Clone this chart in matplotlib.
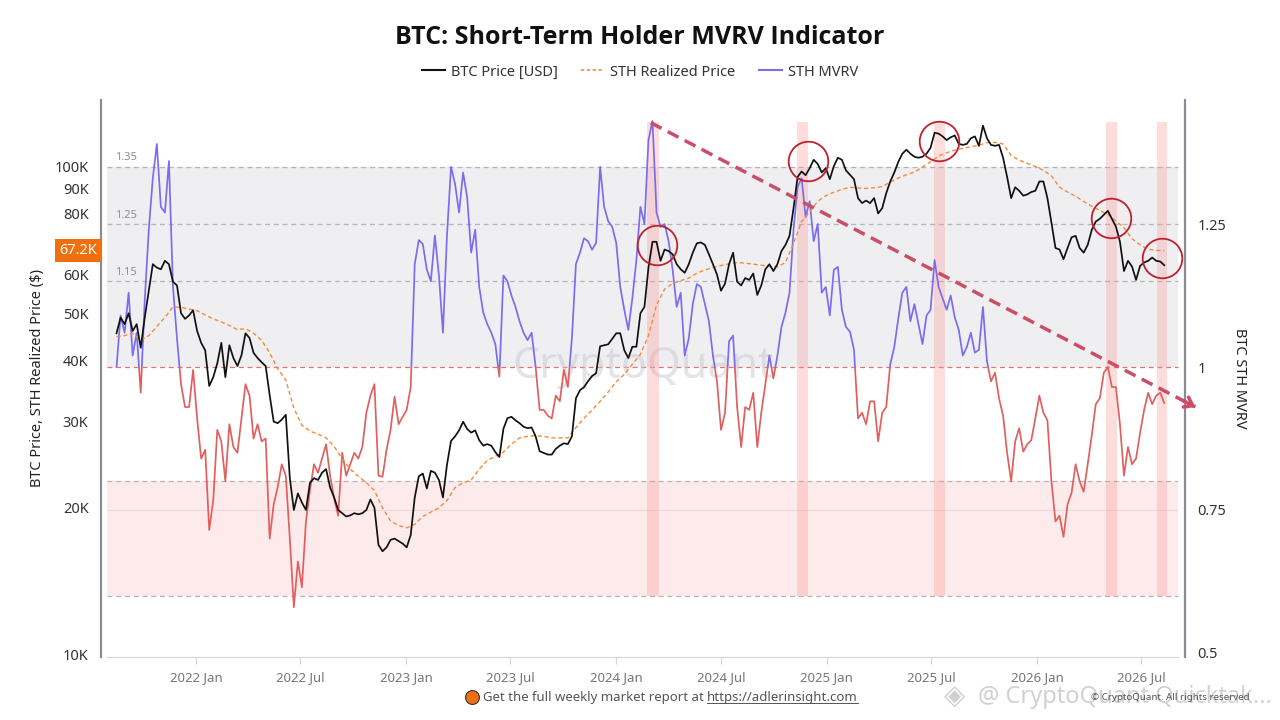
import pandas as pd
import matplotlib
matplotlib.use('Agg')
import matplotlib.pyplot as plt
import matplotlib.dates as mdates
import matplotlib.transforms as mtransforms
from matplotlib.patches import Rectangle
from matplotlib.lines import Line2D
from matplotlib.ticker import FixedLocator, FixedFormatter, NullLocator
import numpy as np

plt.rcParams['font.family'] = ['Noto Sans', 'DejaVu Sans']

# ---- data ----
# BTC price, thousands of USD, weekly
price_dates = pd.date_range('2021-08-16', periods=261, freq='7D')
btc_price_k = [
    45.5, 49, 47.5, 50, 46, 47.5, 42.5, 49, 55.6, 63,
    62, 61.5, 64, 63, 58, 57, 50, 48.7, 49.5, 50.7,
    46, 43.5, 42, 35.5, 37, 39.5, 43.5, 37, 43, 40.5,
    39, 41, 45.5, 44.5, 41.5, 40.5, 39.7, 39, 34, 30,
    29.8, 30.3, 31, 23, 19.8, 21.4, 20.5, 19.8, 22.5, 23,
    22.8, 23.6, 24, 22, 21, 19.8, 19.5, 19.2, 19.3, 19.5,
    19.4, 19.5, 19.8, 20.8, 20, 16.8, 16.3, 16.6, 17.2, 17.3,
    17.1, 16.9, 16.6, 17.6, 21, 23.2, 23.5, 21.9, 23.8, 23.6,
    22.8, 21.0, 24.5, 27.4, 28, 28.8, 30, 29, 28.5, 28.8,
    27.5, 26.8, 27, 26.8, 26, 25.4, 29, 30.5, 30.7, 30.2,
    29.8, 29.3, 29.1, 29.2, 28, 26.1, 25.9, 25.7, 25.7, 26.4,
    26.8, 27.1, 27, 28, 33.5, 34.8, 35.3, 36.3, 37.2, 37.7,
    42.8, 43, 43.2, 44.3, 45.5, 45.5, 42, 40.5, 42.7, 42.7,
    50, 51.5, 62, 70, 70, 64, 67.5, 67, 66, 63,
    61.5, 60.5, 63, 66.5, 69.5, 69.8, 69, 66, 63, 60,
    55.6, 57.5, 63, 66.5, 58, 57, 59, 58.5, 60.3, 54.5,
    57, 61.5, 63, 61, 63, 67, 69, 72, 82, 95,
    97.5, 95.8, 99, 103, 101, 97, 99, 94, 100, 104,
    103, 98, 96, 94, 86, 84, 85, 84, 86, 80,
    82, 88, 93, 97, 102, 106, 108, 106, 104.5, 104,
    104.5, 106, 109, 117, 116.5, 115, 113, 114.5, 115.5, 111,
    110.5, 111, 114, 115, 110, 121, 114, 110.5, 110, 110.5,
    104, 95, 86, 90.5, 89, 87, 87.5, 88.5, 89, 93,
    93, 86, 76.6, 68, 67.5, 64.5, 68, 71.5, 72, 68,
    66.5, 69, 74, 77, 78, 79.5, 81, 78, 75.2, 70,
    61, 64, 62.3, 58.5, 62.5, 63.5, 64, 65, 64, 63.8,
    62.7,
]

# STH realized price, thousands of USD, every 2 weeks
realized_dates = pd.date_range('2021-08-16', periods=131, freq='14D')
sth_realized_k = [
    44.8, 45, 45.5, 44, 45, 47, 49, 51.5, 51.4, 51,
    50.6, 49.6, 48.7, 48, 47.2, 46.3, 46.5, 45.5, 44, 41.5,
    38.5, 36.5, 32, 29.5, 28.7, 28.3, 27.8, 26.7, 25.2, 24,
    23.2, 22.5, 21.7, 20, 18.8, 18.4, 18.2, 18.5, 19.2, 19.6,
    20, 20.7, 22, 22.5, 22.8, 24, 25, 25.5, 26, 27,
    27.8, 28, 28.1, 28, 27.8, 27.8, 27.8, 29.2, 30.5, 31.7,
    33, 34.5, 36.2, 37.5, 39.3, 41.2, 45, 52, 56, 57.5,
    58.3, 59, 60.4, 61.3, 62, 62.6, 63.1, 63.5, 63.3, 63,
    62.7, 62.3, 62.2, 63.5, 69.5, 77, 80.6, 84.7, 87, 88.4,
    89.6, 90.5, 90.2, 90, 90.3, 90.8, 92.7, 94.5, 96, 97.2,
    99.5, 102, 104.8, 106.5, 107.8, 108.7, 109.5, 110.3, 111.7, 111.8,
    111, 105, 102.8, 101.3, 99.8, 98, 95.5, 90.5, 88.5, 86.8,
    84.6, 82.8, 81.2, 79.6, 77.2, 74.8, 71, 69, 67.6, 67.2,
    67.2,
]

# STH MVRV, weekly
mvrv_dates = pd.date_range('2021-08-16', periods=261, freq='7D')
sth_mvrv = [
    1.0, 1.09, 1.06, 1.13, 1.02, 1.06, 0.955, 1.117, 1.24, 1.33,
    1.39, 1.28, 1.27, 1.36, 1.14, 1.05, 0.97, 0.93, 0.93, 0.995,
    0.91, 0.84, 0.855, 0.715, 0.767, 0.89, 0.87, 0.80, 0.90, 0.86,
    0.85, 0.91, 0.97, 0.95, 0.875, 0.90, 0.87, 0.875, 0.70, 0.76,
    0.79, 0.83, 0.81, 0.70, 0.58, 0.66, 0.615, 0.73, 0.785, 0.83,
    0.815, 0.84, 0.865, 0.81, 0.77, 0.74, 0.85, 0.81, 0.83, 0.85,
    0.84, 0.86, 0.92, 0.95, 0.97, 0.81, 0.808, 0.855, 0.89, 0.948,
    0.90, 0.913, 0.925, 0.965, 1.18, 1.222, 1.215, 1.17, 1.15, 1.23,
    1.16, 1.06, 1.23, 1.35, 1.32, 1.27, 1.34, 1.297, 1.20, 1.24,
    1.14, 1.095, 1.075, 1.06, 1.04, 0.983, 1.16, 1.15, 1.125, 1.105,
    1.08, 1.06, 1.047, 1.06, 1.0, 0.925, 0.925, 0.915, 0.91, 0.95,
    0.94, 0.995, 0.965, 1.05, 1.18, 1.20, 1.225, 1.22, 1.205, 1.217,
    1.35, 1.28, 1.255, 1.245, 1.217, 1.14, 1.10, 1.065, 1.12, 1.187,
    1.28, 1.25, 1.397, 1.43, 1.27, 1.245, 1.25, 1.22, 1.17, 1.105,
    1.13, 1.02, 1.05, 1.11, 1.145, 1.14, 1.11, 1.08, 1.02, 0.975,
    0.89, 0.92, 1.045, 1.055, 0.93, 0.86, 0.93, 0.925, 0.955, 0.86,
    0.92, 0.97, 1.02, 0.98, 1.02, 1.07, 1.095, 1.13, 1.24, 1.315,
    1.33, 1.262, 1.29, 1.22, 1.25, 1.13, 1.14, 1.09, 1.17, 1.175,
    1.10, 1.07, 1.062, 1.03, 0.91, 0.92, 0.90, 0.94, 0.94, 0.87,
    0.92, 0.93, 1.005, 1.035, 1.085, 1.13, 1.14, 1.08, 1.11, 1.075,
    1.04, 1.09, 1.10, 1.187, 1.14, 1.12, 1.10, 1.125, 1.087, 1.065,
    1.02, 1.035, 1.06, 1.025, 1.03, 1.105, 1.01, 0.975, 0.99, 0.945,
    0.915, 0.85, 0.80, 0.87, 0.893, 0.852, 0.865, 0.872, 0.91, 0.95,
    0.92, 0.907, 0.80, 0.73, 0.74, 0.703, 0.76, 0.78, 0.83, 0.80,
    0.782, 0.83, 0.88, 0.935, 0.945, 0.99, 1.0, 0.965, 0.965, 0.90,
    0.81, 0.86, 0.83, 0.84, 0.885, 0.925, 0.955, 0.935, 0.95, 0.955,
    0.937,
]

# highlighted periods and circled price tops
zone_starts = ['2024-02-24', '2024-11-10', '2025-07-06', '2026-05-01', '2026-07-29']
zone_ends = ['2024-03-16', '2024-11-29', '2025-07-25', '2026-05-20', '2026-08-15']
circle_dates = ['2024-03-12', '2024-11-29', '2025-07-15', '2026-05-10', '2026-08-06']
circle_prices_k = [68.9, 102.4, 112.5, 78.3, 64.8]

# descending trend line on the MVRV scale
trend_dates = ['2024-03-01', '2026-10-03']
trend_mvrv = [1.427, 0.93]

last_realized_label = '67.2K'

x_tick_dates = ['2022-01-01', '2022-07-01', '2023-01-01', '2023-07-01', '2024-01-01',
                '2024-07-01', '2025-01-01', '2025-07-01', '2026-01-01', '2026-07-01']
x_tick_labels = ['2022 Jan', '2022 Jul', '2023 Jan', '2023 Jul', '2024 Jan',
                 '2024 Jul', '2025 Jan', '2025 Jul', '2026 Jan', '2026 Jul']
price_ticks = [10, 20, 30, 40, 50, 60, 80, 90, 100]
mvrv_ticks = [0.5, 0.75, 1, 1.25]
mvrv_tick_labels = ['0.5', '0.75', '1', '1.25']
grey_levels = [1.35, 1.25, 1.15]

# ---- figure ----
fig = plt.figure(figsize=(12.8, 7.2), dpi=100)
fig.patch.set_facecolor('white')
ax1 = fig.add_axes([101 / 1280, 1 - 657 / 720, 1084 / 1280, 557 / 720])
ax2 = ax1.twinx()
ax1.set_zorder(ax2.get_zorder() + 1)
ax1.patch.set_visible(False)

x_left, x_right = pd.Timestamp('2021-07-20'), pd.Timestamp('2026-09-15')
band_x0, band_x1 = pd.Timestamp('2021-07-30'), pd.Timestamp('2026-09-03')

# background zones on the MVRV axis
ax2.fill_between([band_x0, band_x1], 1.0, 1.35, color='#efeff2', lw=0, zorder=0)
ax2.fill_between([band_x0, band_x1], 0.6, 0.8, color='#fcebea', lw=0, zorder=0)
ax2.hlines(0.75, band_x0, band_x1, colors='#f3d8d8', lw=0.8, zorder=0.2)
ax2.hlines(grey_levels + [0.8, 0.6], band_x0, band_x1, colors='#b4b4be',
           linestyles=(0, (4, 3)), lw=0.9, zorder=0.5)
ax2.hlines(1.0, band_x0, band_x1, colors='#e57373', linestyles=(0, (4, 3)), lw=0.9, zorder=0.5)
for lv in grey_levels:
    ax2.text(pd.Timestamp('2021-08-13'), lv + 0.006, f'{lv:.2f}', fontsize=8,
             color='#8c8c8c', va='bottom', ha='left', zorder=0.6)

ax2.text(0.5, 0.52, 'CryptoQuant', transform=ax2.transAxes, fontsize=31,
         color='#c8c8d2', alpha=0.5, ha='center', va='center', zorder=0.7)

for s, e in zip(zone_starts, zone_ends):
    ax2.fill_between([pd.Timestamp(s), pd.Timestamp(e)], 0.6, 1.428,
                     color='#ff8f8f', alpha=0.3, lw=0, zorder=1)

# MVRV line: purple above 1, red below 1
xa = mdates.date2num(pd.Timestamp('2020-01-01'))
clip_up = Rectangle((xa, 1.0), 4000, 5, transform=ax2.transData)
clip_dn = Rectangle((xa, -5), 4000, 6.0, transform=ax2.transData)
l_up, = ax2.plot(mvrv_dates, sth_mvrv, color='#7b6cf0', lw=1.25, zorder=2)
l_up.set_clip_path(clip_up)
l_dn, = ax2.plot(mvrv_dates, sth_mvrv, color='#e0605f', lw=1.25, zorder=2)
l_dn.set_clip_path(clip_dn)

# price lines
ax1.plot(realized_dates, sth_realized_k, color='#f28c3c', lw=1.0, ls=(0, (3, 2)), zorder=3)
ax1.plot(price_dates, btc_price_k, color='#111111', lw=1.25, zorder=4)
ax1.plot(pd.to_datetime(circle_dates), circle_prices_k, ls='none', marker='o', ms=28.5,
         mfc='none', mec='#c0202e', mew=1.3, zorder=5)

# axes limits & ticks
ax1.set_xlim(x_left, x_right)
ax1.set_yscale('log')
ax1.set_ylim(9.906, 136.5)
ax2.set_ylim(0.493, 1.4668)

ax1.yaxis.set_major_locator(FixedLocator(price_ticks))
ax1.yaxis.set_major_formatter(FixedFormatter([f'{v}K' for v in price_ticks]))
ax1.yaxis.set_minor_locator(NullLocator())
ax1.tick_params(axis='y', length=0, labelsize=10.5, labelcolor='#333333', pad=9)
ax2.yaxis.set_major_locator(FixedLocator(mvrv_ticks))
ax2.yaxis.set_major_formatter(FixedFormatter(mvrv_tick_labels))
ax2.tick_params(axis='y', length=0, labelsize=10.5, labelcolor='#333333', pad=9)

ax1.set_xticks(pd.to_datetime(x_tick_dates))
ax1.set_xticklabels(x_tick_labels)
ax1.tick_params(axis='x', length=5, color='#d5d5dc', labelsize=9.5, labelcolor='#777777', pad=5)

for sp in ['top', 'right']:
    ax1.spines[sp].set_visible(False)
ax1.spines['left'].set_color('#8c8c99')
ax1.spines['left'].set_linewidth(1.6)
ax1.spines['bottom'].set_color('#d5d5dc')
ax1.spines['bottom'].set_bounds(mdates.date2num(band_x0), mdates.date2num(band_x1))
for sp in ['top', 'left', 'bottom']:
    ax2.spines[sp].set_visible(False)
ax2.spines['right'].set_color('#8c8c99')
ax2.spines['right'].set_linewidth(1.6)

# trend arrow (dashed) over everything
trend_c = '#cc4e66'
ax1.plot(pd.to_datetime(trend_dates), trend_mvrv, transform=ax2.transData, color=trend_c,
         lw=2.5, ls=(0, (3.5, 2)), clip_on=False, zorder=6)
p0 = ax2.transData.transform((mdates.date2num(pd.Timestamp(trend_dates[0])), trend_mvrv[0]))
p1 = ax2.transData.transform((mdates.date2num(pd.Timestamp(trend_dates[1])), trend_mvrv[1]))
u = (p1 - p0) / np.hypot(*(p1 - p0))
ax1.annotate('', xy=tuple(p1), xytext=tuple(p1 - 14 * u), xycoords='figure pixels',
             textcoords='figure pixels', annotation_clip=False,
             arrowprops=dict(arrowstyle='->,head_length=0.55,head_width=0.4', lw=2.5,
                             color=trend_c, shrinkA=0, shrinkB=0))

# last realized price tag
blend = mtransforms.blended_transform_factory(ax1.transAxes, ax1.transData)
ax1.text(-0.004, 67.2, last_realized_label, transform=blend, ha='right', va='center',
         color='white', fontsize=10.5, zorder=7, clip_on=False,
         bbox=dict(boxstyle='square,pad=0.3', fc='#f07010', ec='none'))

# titles, labels, legend
fig.text(0.5, 1 - 37 / 720, 'BTC: Short-Term Holder MVRV Indicator', ha='center', va='center',
         fontsize=18, fontweight='bold', color='#111111',
         family=['Open Sans', 'Lato', 'DejaVu Sans'])
handles = [Line2D([], [], color='#111111', lw=1.5),
           Line2D([], [], color='#f28c3c', lw=1.2, ls=(0, (2, 1.5))),
           Line2D([], [], color='#7b6cf0', lw=1.5)]
fig.legend(handles, ['BTC Price [USD]', 'STH Realized Price', 'STH MVRV'], loc='center',
           bbox_to_anchor=(0.5, 1 - 72 / 720), ncol=3, frameon=False, fontsize=10.5,
           handlelength=1.6, handletextpad=0.4, columnspacing=1.6, labelcolor='#333333')
fig.text(38 / 1280, 1 - 378 / 720, 'BTC Price, STH Realized Price ($)', rotation=90,
         ha='center', va='center', fontsize=10.5, color='#222222')
fig.text(1240 / 1280, 1 - 378 / 720, 'BTC STH MVRV', rotation=270,
         ha='center', va='center', fontsize=10.5, color='#222222')

# footer
fy = 1 - 697 / 720
fig.add_artist(Line2D([472 / 1280], [fy], marker='o', ms=10, mfc='#f07010', mec='#333333',
                      mew=0.8, transform=fig.transFigure))
t1 = fig.text(483 / 1280, fy, 'Get the full weekly market report at ', ha='left', va='center',
              fontsize=9.5, color='#555555')
fig.canvas.draw()
r = fig.canvas.get_renderer()
bb1 = t1.get_window_extent(r)
t2 = fig.text(bb1.x1 / 1280, fy, 'https://adlerinsight.com', ha='left', va='center',
              fontsize=9.5, color='#555555')
bb2 = t2.get_window_extent(r)
fig.add_artist(Line2D([bb2.x0 / 1280, bb2.x1 / 1280], [(bb2.y0 + 1) / 720] * 2,
                      color='#555555', lw=0.7, transform=fig.transFigure))

fig.text(955 / 1280, fy, '\u25c8', ha='center', va='center', fontsize=20, color='#d0d0d0')
fig.text(1272 / 1280, fy, '@ CryptoQuant Quicktak...', ha='right', va='center',
         fontsize=17, color='#c9c9c9', alpha=0.85)
fig.text(1170 / 1280, fy, '\u00a9 CryptoQuant. All rights reserved', ha='center', va='center',
         fontsize=7, color='#555555')

fig.savefig('out.png', dpi=100, facecolor='white')
